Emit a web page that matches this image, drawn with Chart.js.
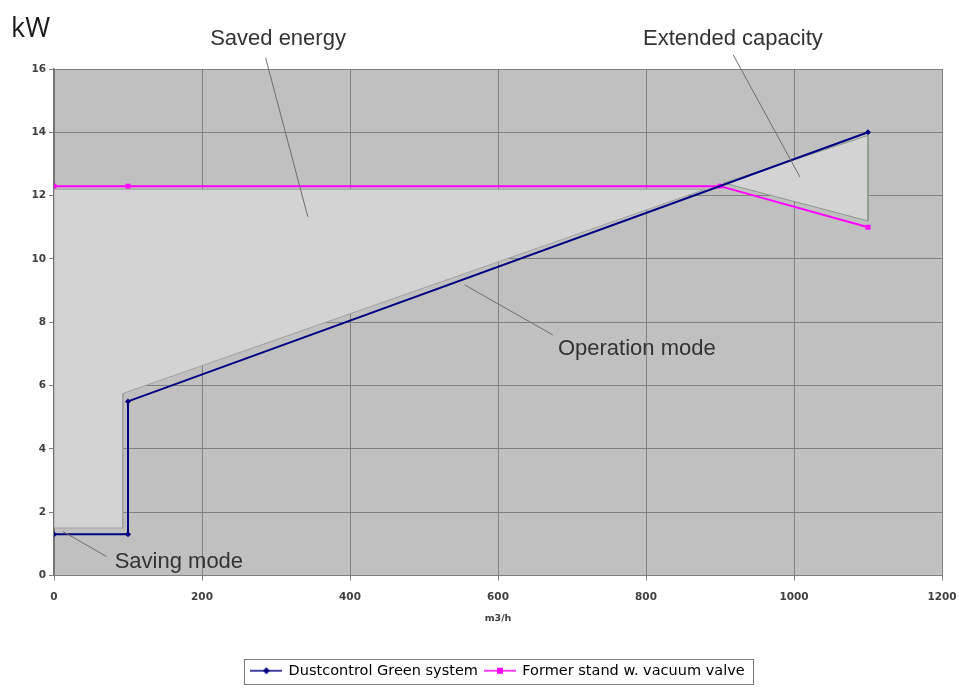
<!DOCTYPE html>
<html><head><meta charset="utf-8">
<script src="https://cdn.jsdelivr.net/npm/chart.js@4.4.1/dist/chart.umd.min.js"></script>
<style>html,body{margin:0;padding:0;background:#fff;}#wrap{width:959px;height:688px;}</style>
</head><body><div id="wrap"><canvas id="c" width="959" height="688"></canvas></div>
<script>
// ---- data ----
const flowGreen   = [0, 100, 100, 1100];
const powerGreen  = [1.3, 1.3, 5.5, 14.0];
const flowFormer  = [0, 100, 900, 1100];
const powerFormer = [12.3, 12.3, 12.3, 11.0];
// shaded regions (drawn shapes in the original)
const savedAreaX    = [0, 880, 93, 93, 0, 0];
const savedAreaY    = [12.2, 12.2, 5.75, 1.5, 1.5, 12.2];
const extendedAreaX = [905, 1100, 1100, 905];
const extendedAreaY = [12.4, 13.9, 11.2, 12.4];
const xTicks = [0, 200, 400, 600, 800, 1000, 1200];
const yTicks = [0, 2, 4, 6, 8, 10, 12, 14, 16];
const seriesNames = ['Dustcontrol Green system', 'Former stand w. vacuum valve'];
const calloutTexts = ['Saved energy', 'Extended capacity', 'Operation mode', 'Saving mode'];
// callout anchors in data units: text start, leader start, leader end
const calloutTextX = [211, 796, 681, 82];
const calloutTextY = [16.76, 16.76, 6.97, 0.25];
const leaderX1 = [286, 918, 555, 12];
const leaderY1 = [16.35, 16.44, 9.18, 1.39];
const leaderX2 = [343, 1008, 674, 71];
const leaderY2 = [11.33, 12.59, 7.6, 0.6];

const pts = (xs, ys) => xs.map((x, i) => ({x, y: ys[i]}));

function legendIcon(color, shape) {
  const c = document.createElement('canvas');
  c.width = 32; c.height = 10;
  const g = c.getContext('2d');
  g.strokeStyle = color; g.lineWidth = 1.5;
  g.beginPath(); g.moveTo(0, 5); g.lineTo(32, 5); g.stroke();
  g.fillStyle = color;
  if (shape === 'diamond') {
    g.beginPath(); g.moveTo(16, 1.5); g.lineTo(19.5, 5); g.lineTo(16, 8.5); g.lineTo(12.5, 5); g.closePath(); g.fill();
  } else {
    g.fillRect(13, 2, 6, 6);
  }
  return c;
}
const icons = [legendIcon('#000080', 'diamond'), legendIcon('#ff00ff', 'square')];

const plotBg = {
  id: 'plotBg',
  beforeDraw(chart) {
    const {ctx, chartArea: a} = chart;
    ctx.save();
    ctx.fillStyle = '#c0c0c0';
    ctx.fillRect(a.left, a.top, a.right - a.left, a.bottom - a.top);
    ctx.restore();
  }
};

const callouts = {
  id: 'callouts',
  afterDatasetsDraw(chart) {
    const {ctx, scales: {x, y}} = chart;
    ctx.save();
    ctx.strokeStyle = '#6e6e6e';
    ctx.lineWidth = 1;
    for (let i = 0; i < calloutTexts.length; i++) {
      ctx.beginPath();
      ctx.moveTo(x.getPixelForValue(leaderX1[i]), y.getPixelForValue(leaderY1[i]));
      ctx.lineTo(x.getPixelForValue(leaderX2[i]), y.getPixelForValue(leaderY2[i]));
      ctx.stroke();
    }
    ctx.fillStyle = '#333333';
    ctx.font = '22px "Liberation Sans", Arial, sans-serif';
    ctx.textBaseline = 'alphabetic';
    ctx.textAlign = 'left';
    for (let i = 0; i < calloutTexts.length; i++) {
      ctx.fillText(calloutTexts[i], x.getPixelForValue(calloutTextX[i]), y.getPixelForValue(calloutTextY[i]));
    }
    ctx.restore();
  },
  afterDraw(chart) {
    const {ctx, chartArea: a} = chart;
    ctx.save();
    ctx.fillStyle = '#1a1a1a';
    ctx.font = '27px "Open Sans", "Noto Sans", sans-serif';
    ctx.textBaseline = 'alphabetic';
    ctx.fillText('kW', a.left - 43, a.top - 32);
    // legend frame
    const lg = chart.legend;
    if (lg && lg.legendHitBoxes && lg.legendHitBoxes.length) {
      const hb = lg.legendHitBoxes;
      const l = hb[0].left - 7;
      const last = hb[hb.length - 1];
      const r = last.left + last.width + 9;
      const t = hb[0].top - 5;
      const b = hb[0].top + hb[0].height + 5;
      ctx.strokeStyle = '#7a7a7a';
      ctx.lineWidth = 1;
      ctx.strokeRect(Math.round(l) + 0.5, Math.round(t) + 0.5, Math.round(r - l), Math.round(b - t));
    }
    ctx.restore();
  }
};

const tickFont = { family: '"DejaVu Sans", sans-serif', size: 10.5, weight: 'bold' };

new Chart(document.getElementById('c'), {
  type: 'scatter',
  data: {
    datasets: [
      {
        label: seriesNames[0],
        data: pts(flowGreen, powerGreen),
        showLine: true,
        borderColor: '#000080',
        backgroundColor: '#000080',
        borderWidth: 2,
        pointStyle: 'rectRot',
        pointRadius: 3,
        pointBackgroundColor: '#000080',
        pointBorderWidth: 0,
        fill: false
      },
      {
        label: seriesNames[1],
        data: pts(flowFormer, powerFormer),
        showLine: true,
        borderColor: '#ff00ff',
        backgroundColor: '#ff00ff',
        borderWidth: 2,
        pointStyle: 'rect',
        pointRadius: 3.5,
        pointBackgroundColor: '#ff00ff',
        pointBorderWidth: 0,
        fill: false
      },
      {
        label: 'saved',
        data: pts(savedAreaX, savedAreaY),
        showLine: true,
        borderColor: '#a0a0a0',
        borderWidth: 1,
        backgroundColor: '#d3d3d3',
        pointRadius: 0,
        fill: 'shape'
      },
      {
        label: 'extended',
        data: pts(extendedAreaX, extendedAreaY),
        showLine: true,
        borderColor: '#8a9a8a',
        borderWidth: 1,
        backgroundColor: '#d3d3d3',
        pointRadius: 0,
        fill: 'shape'
      }
    ]
  },
  plugins: [plotBg, callouts],
  options: {
    responsive: false,
    animation: false,
    layout: { padding: { left: 0, right: 17, top: 69, bottom: 0 } },
    scales: {
      x: {
        type: 'linear',
        min: 0, max: 1200,
        afterBuildTicks: s => { s.ticks = xTicks.map(v => ({value: v})); },
        afterFit: s => { s.height = 81; s.paddingLeft = 0; s.paddingRight = 0; },
        grid: { color: '#808080', lineWidth: 1, tickLength: 5, drawTicks: true },
        border: { color: '#808080', width: 1 },
        ticks: { color: '#404040', padding: 10, maxRotation: 0, font: tickFont, callback: v => String(v) },
        title: { display: true, text: 'm3/h', color: '#404040', padding: { top: 4, bottom: 32 }, font: { family: '"DejaVu Sans", sans-serif', size: 9.5, weight: 'bold' } }
      },
      y: {
        type: 'linear',
        min: 0, max: 16,
        afterBuildTicks: s => { s.ticks = yTicks.map(v => ({value: v})); },
        afterFit: s => { s.width = 54; s.paddingTop = 0; s.paddingBottom = 0; },
        grid: { color: '#808080', lineWidth: 1, tickLength: 5, drawTicks: true },
        border: { color: '#707070', width: 1.5 },
        ticks: { color: '#404040', padding: 3, font: tickFont, callback: v => String(v) }
      }
    },
    plugins: {
      tooltip: { enabled: false },
      legend: {
        display: true,
        position: 'bottom',
        fullSize: false,
        labels: {
          usePointStyle: true,
          pointStyleWidth: 30,
          padding: 7,
          color: '#111111',
          font: { family: '"DejaVu Sans", sans-serif', size: 14.5 },
          generateLabels: () => seriesNames.map((n, i) => ({
            text: n,
            pointStyle: icons[i],
            fillStyle: 'transparent',
            strokeStyle: 'transparent',
            lineWidth: 0,
            datasetIndex: i,
            hidden: false
          }))
        }
      }
    }
  }
});
</script></body></html>
